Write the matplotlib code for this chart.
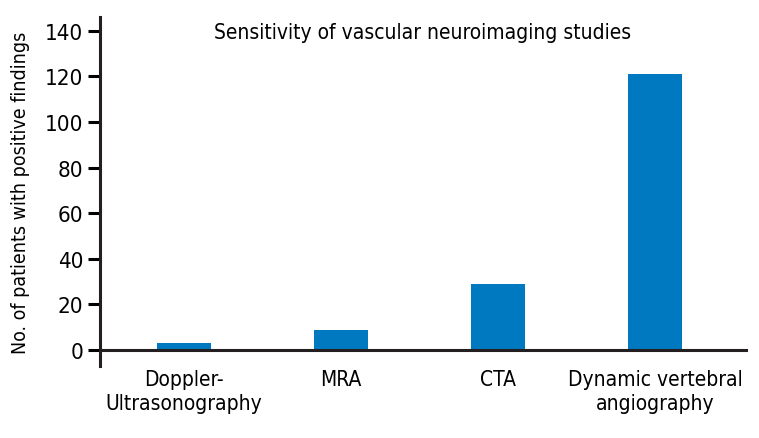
import matplotlib
matplotlib.use("Agg")
import matplotlib.pyplot as plt

plt.rcParams["font.family"] = ["DejaVu Sans"]
plt.rcParams["font.stretch"] = "condensed"
plt.rcParams["font.size"] = 15

# data
categories = ["Doppler-\nUltrasonography", "MRA", "CTA", "Dynamic vertebral\nangiography"]
values = [3, 9, 29, 121]
yticks = [0, 20, 40, 60, 80, 100, 120, 140]

fig = plt.figure(figsize=(7.59, 4.39), dpi=100)
ax = fig.add_axes([0.1318, 0.164, 0.851, 0.795])

x = list(range(len(categories)))
ax.bar(x, values, width=0.344, color="#0079C1", zorder=2)

ax.set_xlim(-0.535, 3.58)
ax.set_ylim(-7, 146)
ax.set_yticks(yticks)
ax.set_xticks(x)
ax.set_xticklabels(categories, linespacing=1.45)
ax.tick_params(axis="x", length=0, pad=14)
ax.tick_params(axis="y", length=9, width=2.2, direction="out", pad=3, labelsize=16)

for s in ["top", "right"]:
    ax.spines[s].set_visible(False)
ax.spines["left"].set_linewidth(2.2)
ax.spines["bottom"].set_linewidth(2.2)
ax.spines["bottom"].set_position(("data", 0))
ax.spines["left"].set_color("#231f20")
ax.spines["bottom"].set_color("#231f20")

ax.set_ylabel("No. of patients with positive findings", fontsize=14, labelpad=11)
ax.text(0.5, 0.985, "Sensitivity of vascular neuroimaging studies",
        transform=ax.transAxes, ha="center", va="top")

fig.savefig("out.png", dpi=100)
